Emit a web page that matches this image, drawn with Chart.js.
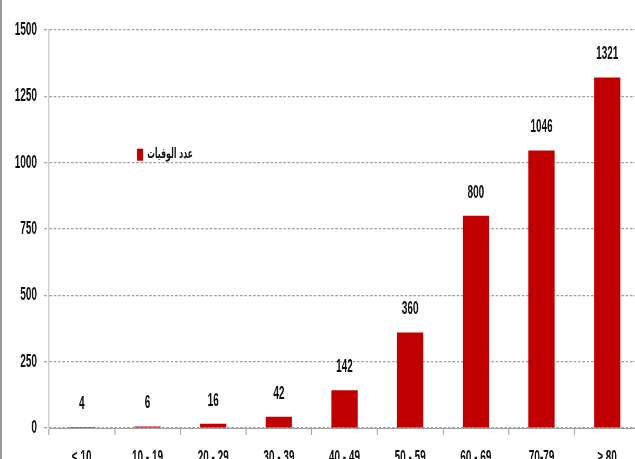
<!DOCTYPE html>
<html>
<head>
<meta charset="utf-8">
<script src="https://cdn.jsdelivr.net/npm/chart.js@4.4.0/dist/chart.umd.min.js"></script>
<style>
  html, body { margin: 0; padding: 0; background: #fff; overflow: hidden; width: 635px; height: 459px; }
  #wrap { position: absolute; left: 0; top: 0; width: 640px; height: 470px; }
  #c { width: 640px !important; height: 470px !important; display: block; }
  #edge { position: absolute; left: 0; top: 0; width: 2px; height: 459px; background: #9a9a9a; z-index: 2; }
</style>
</head>
<body>
<div id="edge"></div>
<div id="wrap"><canvas id="c"></canvas></div>
<script>
const categories = ["≤ 10", "10 - 19", "20 - 29", "30 - 39", "40 - 49", "50 - 59", "60 - 69", "70-79", "≥ 80"];
const deaths = [4, 6, 16, 42, 142, 360, 800, 1046, 1321];
const seriesLabel = "عدد الوفيات";
const yTicks = [0, 250, 500, 750, 1000, 1250, 1500];

// The reference uses a very narrow typeface; the canvas is drawn wider and
// displayed compressed horizontally so text looks condensed.
const SX = 1.8;
const W = Math.round(640 * SX), H = 470;
const cv = document.getElementById('c');
cv.width = W; cv.height = H;

const FONT = "'Liberation Sans', Arial, sans-serif";
const BAR = "#C00000";
const TXT = "#111";

const valueLabels = {
  id: 'valueLabels',
  afterDatasetsDraw(chart) {
    const ctx = chart.ctx;
    const meta = chart.getDatasetMeta(0);
    ctx.save();
    ctx.font = "bold 18px " + FONT;
    ctx.fillStyle = TXT;
    ctx.textAlign = "center";
    ctx.textBaseline = "middle";
    meta.data.forEach((bar, i) => {
      ctx.fillText(String(chart.data.datasets[0].data[i]), bar.x, bar.y - 23);
    });
    ctx.restore();
  }
};

const innerLegend = {
  id: 'innerLegend',
  afterDraw(chart) {
    const ctx = chart.ctx;
    const ds = chart.data.datasets[0];
    const y = chart.scales.y.getPixelForValue(1030);
    ctx.save();
    ctx.fillStyle = ds.backgroundColor;
    ctx.fillRect(137 * SX, y - 6, 6 * SX, 12);
    ctx.font = "bold 14px 'DejaVu Sans', sans-serif";
    ctx.fillStyle = TXT;
    ctx.textAlign = "right";
    ctx.textBaseline = "middle";
    ctx.fillText(ds.label, 193 * SX, y);
    ctx.restore();
  }
};

new Chart(cv, {
  type: 'bar',
  data: {
    labels: categories,
    datasets: [{
      label: seriesLabel,
      data: deaths,
      backgroundColor: BAR,
      borderWidth: 0,
      categoryPercentage: 1.0,
      barPercentage: 0.4
    }]
  },
  options: {
    responsive: false,
    animation: false,
    devicePixelRatio: 1,
    layout: { padding: { top: 30, left: 0, right: 0, bottom: 0 } },
    plugins: {
      legend: { display: false },
      tooltip: { enabled: false },
      title: { display: false }
    },
    scales: {
      x: {
        grid: {
          display: true,
          drawOnChartArea: false,
          drawTicks: true,
          tickLength: 7,
          color: "#a0a0a0",
          lineWidth: 1.8,
          offset: true
        },
        border: { display: true, color: "#a0a0a0", width: 1 },
        ticks: {
          font: { family: FONT, size: 18, weight: 'bold' },
          color: TXT,
          padding: 12,
          maxRotation: 0,
          autoSkip: false
        },
        afterFit(scale) { scale.height = 42; }
      },
      y: {
        min: 0,
        max: 1500,
        afterBuildTicks(scale) { scale.ticks = yTicks.map(v => ({ value: v })); },
        grid: {
          color: "#a0a0a0",
          lineWidth: 1.2,
          tickLength: 5 * SX,
          drawTicks: true,
          tickColor: "#a0a0a0",
          tickBorderDash: [4.8, 3]
        },
        border: { display: true, color: "#c0c0c0", width: 1.8, dash: [4.8, 3] },
        ticks: {
          font: { family: FONT, size: 18, weight: 'bold' },
          color: TXT,
          padding: 7 * SX,
          callback: (v) => String(v)
        },
        afterFit(scale) { scale.width = 49 * SX; }
      }
    }
  },
  plugins: [valueLabels, innerLegend]
});
</script>
</body>
</html>
